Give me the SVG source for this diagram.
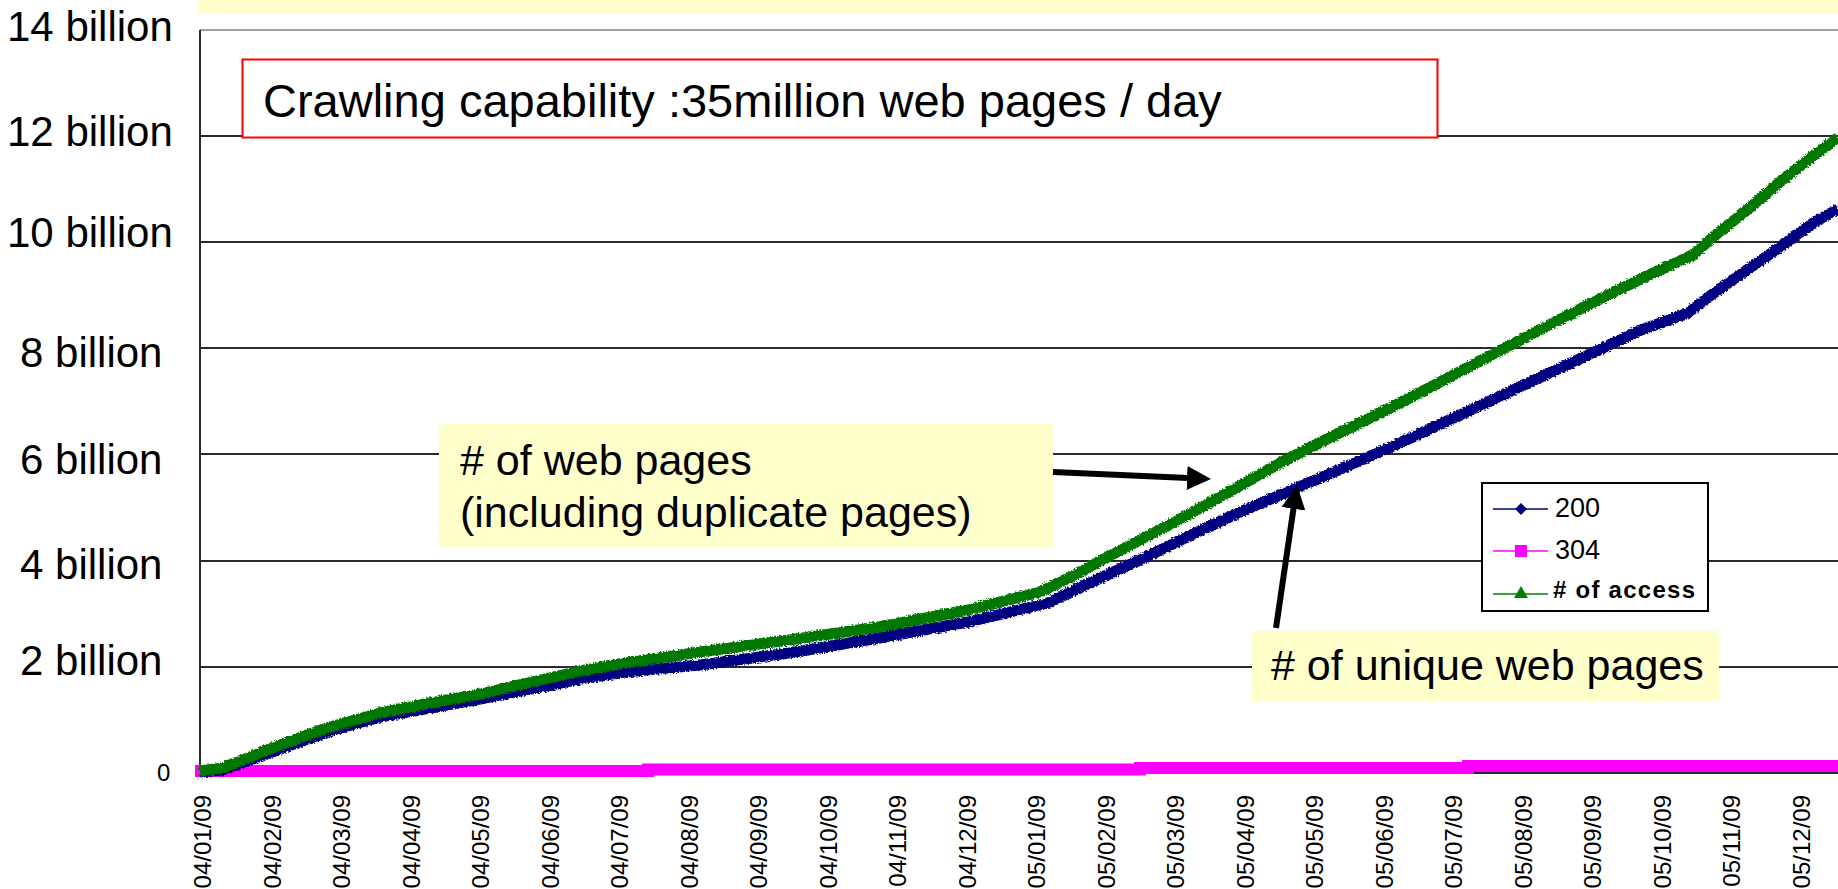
<svg xmlns="http://www.w3.org/2000/svg" width="1838" height="889" viewBox="0 0 1838 889">
<style>
  .lbl{font-family:"Liberation Sans",Arial,sans-serif;font-size:42px;fill:#000}
  .big{font-family:"Liberation Sans",Arial,sans-serif;font-size:47px;fill:#000}
  .call{font-family:"Liberation Sans",Arial,sans-serif;font-size:43px;fill:#000}
  .date{font-family:"Liberation Sans",Arial,sans-serif;font-size:24px;fill:#000;text-anchor:end}
  .leg{font-family:"Liberation Sans",Arial,sans-serif;font-size:27px;fill:#000}
  .grid{stroke:#2a2a2a;stroke-width:2;fill:none}
  .callbox{fill:#FFFFCC;stroke:none}
  .series{fill:none;stroke-width:11;stroke-linejoin:round;stroke-linecap:butt}
  .arrow{stroke:#000;stroke-width:6;fill:none;marker-end:url(#head)}
</style>
<defs>
  <marker id="head" markerUnits="userSpaceOnUse" markerWidth="26" markerHeight="26" viewBox="0 -13 26 26" refX="1" refY="0" orient="auto">
    <path d="M0,-12 L24,0 L0,12 z" fill="#000"/>
  </marker>
  <filter id="rough" x="-2%" y="-5%" width="104%" height="110%">
    <feTurbulence type="fractalNoise" baseFrequency="0.6" numOctaves="1" seed="3" result="n"/>
    <feDisplacementMap in="SourceGraphic" in2="n" scale="5" xChannelSelector="R" yChannelSelector="G"/>
  </filter>
</defs>
<rect x="0" y="0" width="1838" height="889" fill="#fff"/>

<g id="top-band"><rect x="198" y="0" width="1640" height="14" fill="#FFFFCC"/></g>

<g id="grid">
  <line x1="200" y1="30" x2="1838" y2="30" stroke="#a0a0a0" stroke-width="2"/>
  <line class="grid" x1="200" y1="136" x2="1838" y2="136"/>
  <line class="grid" x1="200" y1="242" x2="1838" y2="242"/>
  <line class="grid" x1="200" y1="348" x2="1838" y2="348"/>
  <line class="grid" x1="200" y1="454" x2="1838" y2="454"/>
  <line class="grid" x1="200" y1="561" x2="1838" y2="561"/>
  <line class="grid" x1="200" y1="667" x2="1838" y2="667"/>
  <line class="grid" x1="200" y1="773" x2="1838" y2="773"/>
  <line class="grid" x1="200" y1="30" x2="200" y2="774"/>
</g>

<g id="y-labels">
  <text class="lbl" x="7" y="41">14 billion</text>
  <text class="lbl" x="7" y="146">12 billion</text>
  <text class="lbl" x="7" y="247">10 billion</text>
  <text class="lbl" x="20" y="367">8 billion</text>
  <text class="lbl" x="20" y="474">6 billion</text>
  <text class="lbl" x="20" y="579">4 billion</text>
  <text class="lbl" x="20" y="675">2 billion</text>
  <text x="157" y="781" style="font-family:'Liberation Sans',Arial,sans-serif;font-size:24px">0</text>
</g>

<g id="x-labels">
  <text class="date" transform="translate(211,795) rotate(-90)">04/01/09</text>
  <text class="date" transform="translate(280.5,795) rotate(-90)">04/02/09</text>
  <text class="date" transform="translate(350,795) rotate(-90)">04/03/09</text>
  <text class="date" transform="translate(419.6,795) rotate(-90)">04/04/09</text>
  <text class="date" transform="translate(489.1,795) rotate(-90)">04/05/09</text>
  <text class="date" transform="translate(558.6,795) rotate(-90)">04/06/09</text>
  <text class="date" transform="translate(628.1,795) rotate(-90)">04/07/09</text>
  <text class="date" transform="translate(697.6,795) rotate(-90)">04/08/09</text>
  <text class="date" transform="translate(767.2,795) rotate(-90)">04/09/09</text>
  <text class="date" transform="translate(836.7,795) rotate(-90)">04/10/09</text>
  <text class="date" transform="translate(906.2,795) rotate(-90)">04/11/09</text>
  <text class="date" transform="translate(975.7,795) rotate(-90)">04/12/09</text>
  <text class="date" transform="translate(1045.2,795) rotate(-90)">05/01/09</text>
  <text class="date" transform="translate(1114.8,795) rotate(-90)">05/02/09</text>
  <text class="date" transform="translate(1184.3,795) rotate(-90)">05/03/09</text>
  <text class="date" transform="translate(1253.8,795) rotate(-90)">05/04/09</text>
  <text class="date" transform="translate(1323.3,795) rotate(-90)">05/05/09</text>
  <text class="date" transform="translate(1392.8,795) rotate(-90)">05/06/09</text>
  <text class="date" transform="translate(1462.4,795) rotate(-90)">05/07/09</text>
  <text class="date" transform="translate(1531.9,795) rotate(-90)">05/08/09</text>
  <text class="date" transform="translate(1601.4,795) rotate(-90)">05/09/09</text>
  <text class="date" transform="translate(1670.9,795) rotate(-90)">05/10/09</text>
  <text class="date" transform="translate(1740.4,795) rotate(-90)">05/11/09</text>
  <text class="date" transform="translate(1810,795) rotate(-90)">05/12/09</text>
</g>

<g id="series-304">
  <path d="M195 771 H648 V769.5 H1140 V768 H1468 V766 H1838" fill="none" stroke="#FF00FF" stroke-width="12"/>
</g>
<g id="series-200" filter="url(#rough)">
  <polyline class="series" stroke="#000080" points="200,772 222,770 250,760 280,749 330,731 380,717 430,708 480,699 536,688 580,679 625,672 700,665 789,653 879,638 968,622 1048,603 1079,588 1146,557 1191,535 1236,514 1294,489 1325,476 1400,443 1524,385 1641,330 1688,313 1707,298 1747,270 1780,247 1813,223 1838,209"/>
</g>
<g id="series-access" filter="url(#rough)">
  <polyline class="series" stroke="#007800" points="200,771 222,768 250,757 280,745 330,727 380,713 430,703 480,694 536,681 580,671 625,663 700,652 789,640 879,627 968,610 1040,592 1079,573 1102,560 1146,537 1191,513 1236,488 1280,463 1325,440 1370,418 1400,403 1524,338 1590,304 1647,276 1693,255 1713,237 1747,210 1780,182 1813,156 1838,138"/>
</g>

<g id="capability-box">
  <rect x="242.5" y="59.5" width="1195" height="78" fill="#fff" stroke="#FF0000" stroke-width="2"/>
  <text class="big" x="263" y="117">Crawling capability :35million web pages / day</text>
</g>

<g id="callout-web-pages">
  <rect class="callbox" x="439" y="424" width="614" height="123"/>
  <text class="call" x="460" y="475">
    <tspan x="460" y="475"># of web pages</tspan>
    <tspan x="460" y="527">(including duplicate pages)</tspan>
  </text>
</g>

<g id="callout-unique">
  <rect class="callbox" x="1252" y="631" width="467" height="70"/>
  <text class="call" x="1271" y="680"># of unique web pages</text>
</g>

<g id="legend">
  <rect x="1482" y="483" width="226" height="128" fill="#fff" stroke="#000" stroke-width="2"/>
  <line x1="1493" y1="509" x2="1548" y2="509" stroke="#000080" stroke-width="1.5"/>
  <path d="M1521,503 L1527,509 L1521,515 L1515,509 z" fill="#000080"/>
  <text class="leg" x="1555" y="517">200</text>
  <line x1="1493" y1="551" x2="1548" y2="551" stroke="#FF00FF" stroke-width="1.5"/>
  <rect x="1515" y="545" width="12" height="12" fill="#FF00FF"/>
  <text class="leg" x="1555" y="559">304</text>
  <line x1="1493" y1="594" x2="1548" y2="594" stroke="#008000" stroke-width="1.5"/>
  <path d="M1521,586 L1528,598 L1514,598 z" fill="#008000"/>
  <text x="1553" y="598" textLength="142" lengthAdjust="spacing" style="font-family:'Liberation Sans',Arial,sans-serif;font-size:24px;font-weight:bold"># of access</text>
</g>

<g id="connectors">
  <line class="arrow" x1="1053" y1="472" x2="1188" y2="478"/>
  <line class="arrow" x1="1276" y1="628" x2="1293.6" y2="507.8"/>
</g>
</svg>
